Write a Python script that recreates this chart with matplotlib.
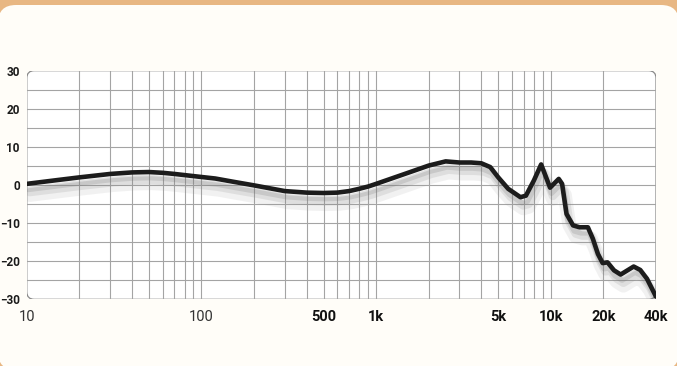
import matplotlib.pyplot as plt
import matplotlib.patheffects as pe
from matplotlib.patches import FancyBboxPatch
from matplotlib.transforms import IdentityTransform

# frequency response
freqs = [10, 15, 20, 30, 40, 50, 60, 70, 80, 100, 120, 150, 200, 300, 400, 500,
         600, 700, 800, 900, 1000, 1500, 2000, 2500, 3000, 3500, 4000, 4500,
         5000, 5700, 6700, 7200, 8000, 8800, 9900, 11100, 11600, 12300, 13400,
         14600, 16300, 17400, 18600, 19800, 21100, 23000, 25100, 29800, 32500,
         35500, 40000]
db = [0.3, 1.3, 2.0, 2.9, 3.3, 3.4, 3.2, 2.9, 2.6, 2.1, 1.7, 0.9, -0.1, -1.6,
      -2.0, -2.1, -2.0, -1.6, -1.0, -0.4, 0.3, 3.1, 5.1, 6.2, 5.9, 5.9, 5.7,
      4.7, 2.0, -1.0, -3.2, -2.8, 1.2, 5.4, -0.7, 1.6, 0.3, -7.6, -10.6, -11.1,
      -11.1, -14.1, -18.1, -20.5, -20.3, -22.4, -23.5, -21.4, -22.3, -24.6,
      -29.3]

x_ticks = [10, 100, 500, 1000, 5000, 10000, 20000, 40000]
x_labels = ['10', '100', '500', '1k', '5k', '10k', '20k', '40k']
y_ticks = [30, 20, 10, 0, -10, -20, -30]

v_grid = [20, 30, 40, 50, 60, 70, 80, 90, 100, 200, 300, 400, 500, 600, 700,
          800, 900, 1000, 2000, 3000, 4000, 5000, 6000, 7000, 8000, 9000,
          10000, 20000]
h_grid = [25, 20, 15, 10, 5, 0, -5, -10, -15, -20, -25]

plt.rcParams['font.family'] = ['Roboto', 'DejaVu Sans']

fig = plt.figure(figsize=(6.77, 3.66), dpi=100, facecolor='#e8b783')
# cream card with rounded corners over the orange frame
card = FancyBboxPatch((-2, -4), 681, 365, boxstyle='round,pad=0,rounding_size=18',
                      transform=IdentityTransform(), facecolor='#fffdf8',
                      edgecolor='none', zorder=-10)
fig.patches.append(card)

ax = fig.add_axes([26.8 / 677, 1 - 299.3 / 366, (656 - 26.8) / 677, (299.3 - 70.7) / 366])
ax.set_facecolor('none')
ax.set_xscale('log')
ax.set_xlim(10, 40000)
ax.set_ylim(-30, 30)

for f in v_grid:
    ax.axvline(f, color='#a4a4a4', lw=0.8, zorder=1)
for h in h_grid:
    ax.axhline(h, color='#a4a4a4', lw=0.8, zorder=1)

frame = FancyBboxPatch((0, 0), 1, 1, boxstyle='round,pad=0,rounding_size=0.012',
                       mutation_aspect=2.75, transform=ax.transAxes,
                       facecolor='white', edgecolor='#8a8a8a', lw=0.9, zorder=0)
ax.add_patch(frame)
for s in ax.spines.values():
    s.set_visible(False)

ax.plot(freqs, db, color='#1c1c1c', lw=3.3, solid_capstyle='round',
        solid_joinstyle='round', zorder=5,
        path_effects=[pe.SimpleLineShadow(offset=(2, -8), shadow_color='#909090', alpha=0.12, linewidth=10),
                      pe.SimpleLineShadow(offset=(2, -6), shadow_color='#808080', alpha=0.16, linewidth=6),
                      pe.SimpleLineShadow(offset=(1, -4), shadow_color='#707070', alpha=0.2, linewidth=4),
                      pe.Normal()])

ax.set_xticks(x_ticks)
ax.set_xticklabels(x_labels)
ax.minorticks_off()
ax.set_yticks(y_ticks)
ax.tick_params(axis='both', length=0)
ax.tick_params(axis='x', pad=8, labelsize=10.5, colors='#111111')
ax.tick_params(axis='y', pad=5, labelsize=8.5, colors='#1a1a1a')
for lab in ax.get_xticklabels():
    if lab.get_text() in ('10', '100'):
        lab.set_fontweight('normal')
        lab.set_color('#333333')
    else:
        lab.set_fontweight('bold')
for lab in ax.get_yticklabels():
    lab.set_fontweight('bold')

fig.savefig('out.png', dpi=100, facecolor=fig.get_facecolor())
